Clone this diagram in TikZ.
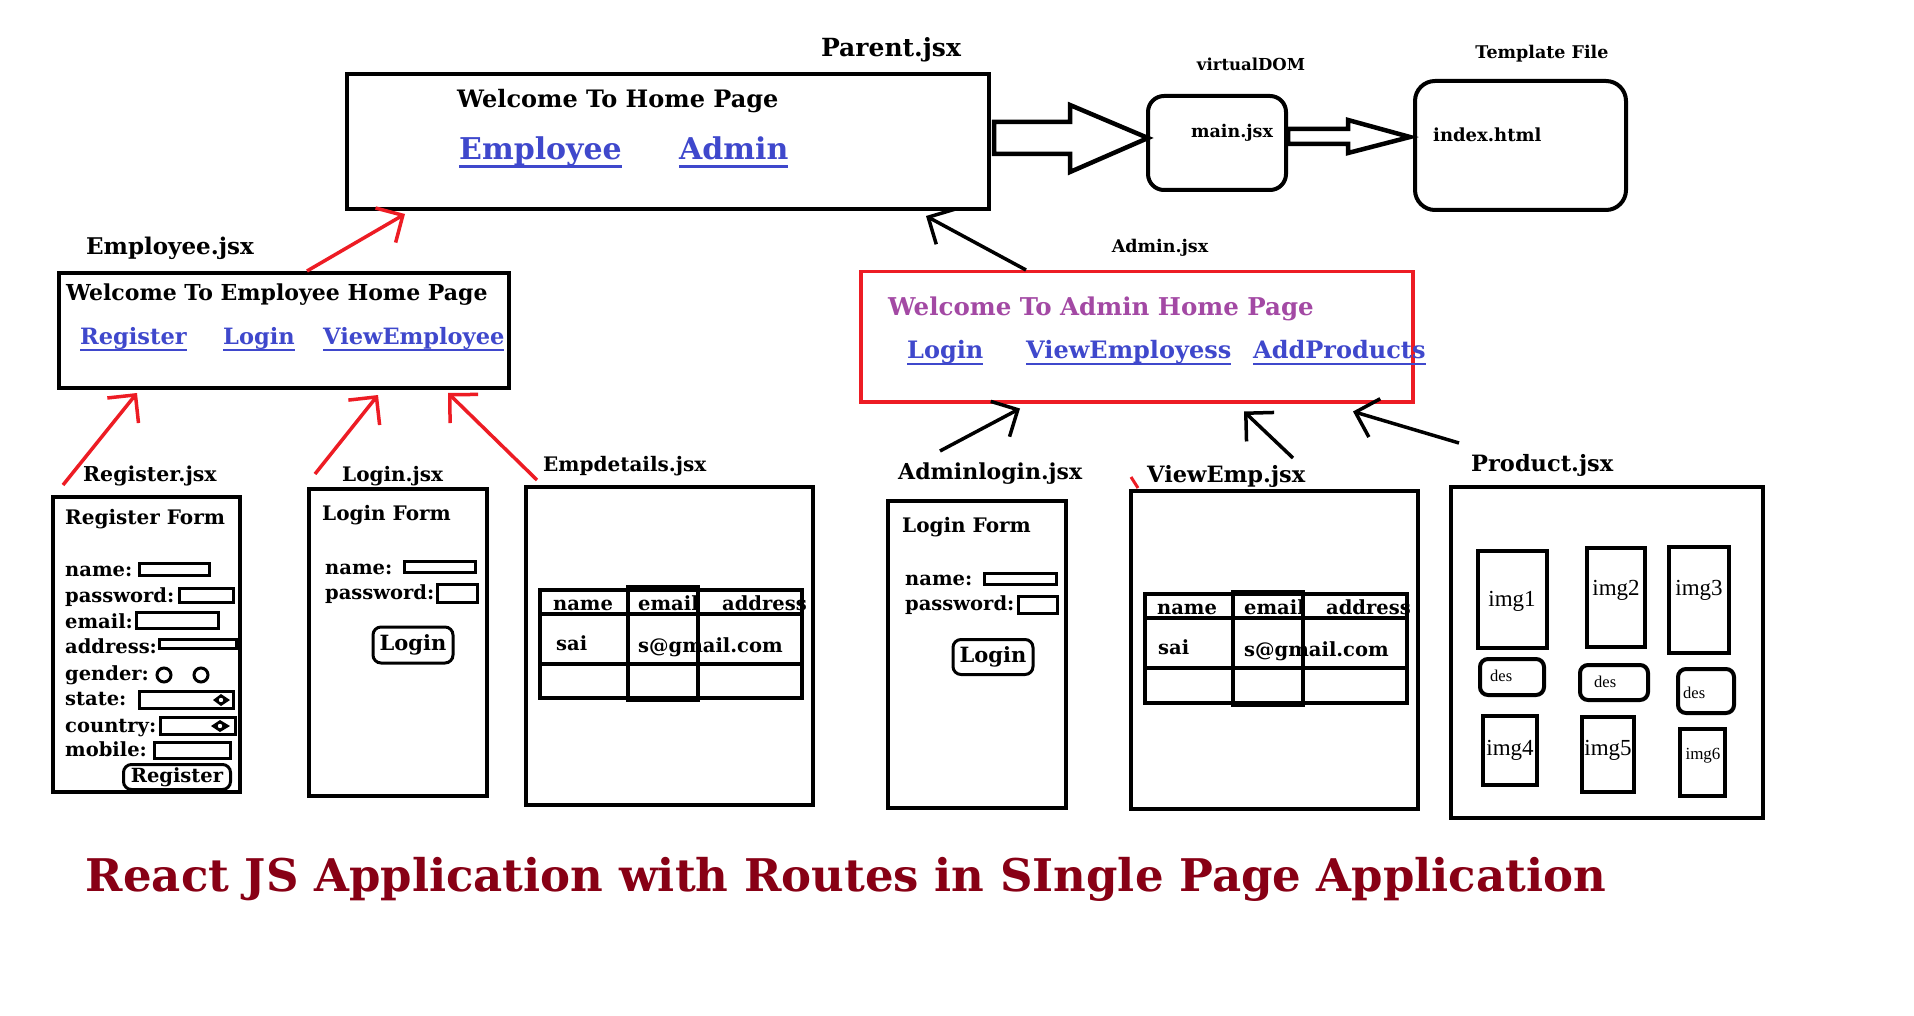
\documentclass[tikz,border=0pt]{standalone}
\usepackage{fontspec}
\setmainfont{DejaVu Serif}
\newfontfamily\tnr{Liberation Serif}
\usetikzlibrary{arrows.meta,calc}
\definecolor{pred}{RGB}{237,28,36}
\definecolor{dred}{RGB}{136,0,21}
\definecolor{ppurple}{RGB}{163,73,164}
\definecolor{lblue}{RGB}{63,72,204}
\newcommand\fsz[1]{\fontsize{#1}{#1}\selectfont}
\newcommand\lnk[1]{\textcolor{lblue}{\setbox0\hbox{#1}\rlap{\rule[-0.28em]{\wd0}{0.09em}}\box0}}
\begin{document}
\begin{tikzpicture}[x=1pt,y=-1pt,
  box/.style={draw,line width=4pt,inner sep=0pt,anchor=north west},
  rbox/.style={draw,line width=4pt,rounded corners=16pt,inner sep=0pt,anchor=north west},
  fld/.style={draw,line width=3pt},
  btn/.style={draw,line width=3pt,rounded corners=8pt,yshift=-1pt},
  tl/.style={inner sep=0pt,anchor=mid west,yshift=-5pt,font=\bfseries\fsz{#1}},
  tc/.style={inner sep=0pt,anchor=mid,yshift=-5pt,font=\bfseries\fsz{#1}},
  ti/.style={inner sep=0pt,anchor=mid,yshift=-4pt,font=\tnr\fsz{#1}},
  tiw/.style={inner sep=0pt,anchor=mid west,yshift=-3pt,font=\tnr\fsz{#1}},
  redarr/.style={draw=pred,line width=3.5pt,-{Straight Barb[length=20pt,width=40pt,line width=3.5pt]}},
  blkarr/.style={draw=black,line width=3.5pt,-{Straight Barb[length=20pt,width=40pt,line width=3.5pt]}},
]
\useasboundingbox (0,0) rectangle (1914,1016);
\fill[white] (0,0) rectangle (1914,1016);

% ---------- top row ----------
\node[box,minimum width=642pt,minimum height=135pt] (parent) at (345,72) {};
\node[tc=25] (parentlbl) at (891,49) {Parent.jsx};
\node[tl=24] (parentwel) at (457,100) {Welcome To Home Page};
\node[tl=30] (parentemp) at (459,152) {\lnk{Employee}};
\node[tl=30] (parentadm) at (679,152) {\lnk{Admin}};

\node[rbox,minimum width=138pt,minimum height=94pt] (main) at (1146,94) {};
\node[tc=16.5] (vdom) at (1251,63) {virtualDOM};
\node[tc=17.5] (mainlbl) at (1232,130) {main.jsx};

\node[rbox,rounded corners=20pt,minimum width=211pt,minimum height=129pt] (index) at (1413,79) {};
\node[tc=17.5] (tmpl) at (1542,51) {Template File};
\node[tl=18] (indexlbl) at (1433,134) {index.html};

% hollow arrows
\draw[line width=4.5pt,line join=miter] (994,122) -- (1070,122) -- (1070,105) -- (1148,138) -- (1070,172) -- (1070,154) -- (994,154) -- cycle;
\draw[line width=4.5pt,line join=miter] (1288,129) -- (1348,129) -- (1348,120) -- (1410,137) -- (1348,153) -- (1348,144) -- (1288,144) -- cycle;

% ---------- employee ----------
\node[box,minimum width=450pt,minimum height=115pt] (emp) at (57,271) {};
\node[tl=23] (emplbl) at (86,247) {Employee.jsx};
\node[tl=22] (empwel) at (66,293) {Welcome To Employee Home Page};
\node[tl=22.5] (emplnk1) at (80,337) {\lnk{Register}};
\node[tl=22.5] (emplnk2) at (223,337) {\lnk{Login}};
\node[tl=22.5] (emplnk3) at (323,337) {\lnk{ViewEmployee}};

% ---------- admin ----------
\node[box,draw=pred,line width=3.5pt,minimum width=552pt,minimum height=130pt] (admin) at (859,270) {};
\node[tc=17.5] (adminlbl) at (1160,245) {Admin.jsx};
\node[tl=24.5,text=ppurple] (adminwel) at (888,308) {Welcome To Admin Home Page};
\node[tl=24] (admlnk1) at (907,351) {\lnk{Login}};
\node[tl=24] (admlnk2) at (1026,351) {\lnk{ViewEmployess}};
\node[tl=24] (admlnk3) at (1253,351) {\lnk{AddProducts}};

% ---------- register ----------
\node[box,minimum width=187pt,minimum height=295pt] (reg) at (51,495) {};
\node[tl=20.5] (reglbl) at (83,474) {Register.jsx};
\node[tl=20] (regform) at (65,517) {Register Form};
\node[tl=19.5] (rn) at (65,569) {name:};
\node[tl=19.5] (rp) at (65,595) {password:};
\node[tl=19.5] (re) at (65,621) {email:};
\node[tl=19.5] (ra) at (65,646) {address:};
\node[tl=19.5] (rg) at (65,673) {gender:};
\node[tl=19.5] (rs) at (65,698) {state:};
\node[tl=19.5] (rc) at (65,725) {country:};
\node[tl=19.5] (rm) at (65,749) {mobile:};
\draw[fld] (139,563) rectangle (209,575);
\draw[fld] (179,588) rectangle (233,602);
\draw[fld] (136,612) rectangle (218,628);
\draw[fld] (159,639) rectangle (236,648);
\draw[line width=3pt] (164,675) circle (7);
\draw[line width=3pt] (201,675) circle (7);
\draw[fld] (139,691) rectangle (233,708);
\fill (213,700) -- (221,694) -- (230,700) -- (221,706) -- cycle;
\fill[white] (221,700) circle (2.2);
\draw[fld] (160,717) rectangle (235,734);
\fill (211,726) -- (220,720) -- (230,726) -- (220,732) -- cycle;
\fill[white] (220,726) circle (2.2);
\draw[fld] (154,742) rectangle (230,758);
\node[btn,inner sep=0pt,minimum width=107pt,minimum height=25pt,font=\bfseries\fsz{19.5}] (regbtn) at (177,776) {Register};

% ---------- login ----------
\node[box,minimum width=178pt,minimum height=307pt] (login) at (307,487) {};
\node[tl=20] (loginlbl) at (342,474) {Login.jsx};
\node[tl=20] (loginform) at (322,513) {Login Form};
\node[tl=19.5] (ln) at (325,567) {name:};
\node[tl=19.5] (lp) at (325,592) {password:};
\draw[fld] (404,561) rectangle (475,572);
\draw[fld] (437,584) rectangle (477,602);
\node[btn,inner sep=0pt,minimum width=80pt,minimum height=36pt,font=\bfseries\fsz{21}] (loginbtn) at (413,644) {Login};

% ---------- empdetails ----------
\node[box,minimum width=287pt,minimum height=318pt] (empd) at (524,485) {};
\node[tl=20] (empdlbl) at (543,464) {Empdetails.jsx};
\draw[line width=4pt] (540,590) rectangle (802,698);
\draw[line width=4pt] (540,614) -- (802,614) (540,664) -- (802,664);
\draw[line width=4pt] (628,587) rectangle (698,700);
\node[tc=19.5] (e1) at (583,603) {name};
\node[tl=19.5] (e2) at (638,603) {email};
\node[tl=19.5] (e3) at (722,603) {address};
\node[tl=19.5] (e4) at (556,643) {sai};
\node[tl=19.5] (e5) at (638,645) {s@gmail.com};

% ---------- adminlogin ----------
\node[box,minimum width=178pt,minimum height=307pt] (alog) at (886,499) {};
\node[tl=22] (aloglbl) at (898,472) {Adminlogin.jsx};
\node[tl=20] (alogform) at (902,525) {Login Form};
\node[tl=19.5] (an) at (905,578) {name:};
\node[tl=19.5] (ap) at (905,603) {password:};
\draw[fld] (984,573) rectangle (1056,584);
\draw[fld] (1018,596) rectangle (1057,613);
\node[btn,inner sep=0pt,minimum width=80pt,minimum height=35pt,font=\bfseries\fsz{21}] (alogbtn) at (993,656) {Login};

% ---------- viewemp ----------
\node[box,minimum width=287pt,minimum height=318pt] (vemp) at (1129,489) {};
\node[tl=22.5] (vemplbl) at (1147,475) {ViewEmp.jsx};
\draw[pred,line width=3pt] (1131,477) -- (1138,488);
\draw[line width=4pt] (1145,594) rectangle (1407,703);
\draw[line width=4pt] (1145,618) -- (1407,618) (1145,668) -- (1407,668);
\draw[line width=4pt] (1233,592) rectangle (1303,705);
\node[tc=19.5] (v1) at (1187,607) {name};
\node[tl=19.5] (v2) at (1244,607) {email};
\node[tl=19.5] (v3) at (1326,607) {address};
\node[tl=19.5] (v4) at (1158,647) {sai};
\node[tl=19.5] (v5) at (1244,649) {s@gmail.com};

% ---------- product ----------
\node[box,minimum width=312pt,minimum height=331pt] (prod) at (1449,485) {};
\node[tl=22.5] (prodlbl) at (1471,464) {Product.jsx};
\draw[line width=4pt] (1478,551) rectangle (1547,648);
\draw[line width=4pt] (1587,548) rectangle (1645,647);
\draw[line width=4pt] (1669,547) rectangle (1729,653);
\draw[line width=4pt,rounded corners=8pt] (1480,659) rectangle (1544,695);
\draw[line width=4pt,rounded corners=8pt] (1580,665) rectangle (1648,700);
\draw[line width=4pt,rounded corners=8pt] (1678,669) rectangle (1734,713);
\draw[line width=4pt] (1483,716) rectangle (1537,785);
\draw[line width=4pt] (1582,717) rectangle (1634,792);
\draw[line width=4pt] (1680,729) rectangle (1725,796);
\node[ti=23] (p1) at (1512,600) {img1};
\node[ti=23] (p2) at (1616,589) {img2};
\node[ti=23] (p3) at (1699,589) {img3};
\node[tiw=16.5] (d1) at (1490,676) {des};
\node[tiw=16.5] (d2) at (1594,682) {des};
\node[tiw=16.5] (d3) at (1683,693) {des};
\node[ti=23] (p4) at (1510,749) {img4};
\node[ti=23] (p5) at (1608,749) {img5};
\node[ti=17] (p6) at (1703,753) {img6};

% ---------- connectors ----------
\draw[redarr] ([xshift=250pt]emp.north west) -- ([xshift=60pt,yshift=-3pt]parent.south west);
\draw[redarr] ([xshift=12pt,yshift=10pt]reg.north west) -- ([xshift=80pt,yshift=-3pt]emp.south west);
\draw[redarr] ([xshift=8pt,yshift=13pt]login.north west) -- ([xshift=321pt,yshift=-5pt]emp.south west);
\draw[redarr] ([xshift=13pt,yshift=5pt]empd.north west) -- ([xshift=391pt,yshift=-3pt]emp.south west);
\draw[blkarr] ([xshift=167pt]admin.north west) -- ([xshift=581pt,yshift=-5pt]parent.south west);
\draw[blkarr] ([xshift=54pt,yshift=48pt]alog.north west) -- ([xshift=161pt,yshift=-5pt]admin.south west);
\draw[blkarr] ([xshift=164pt,yshift=31pt]vemp.north west) -- ([xshift=385pt,yshift=-8pt]admin.south west);
\draw[blkarr] ([xshift=10pt,yshift=42pt]prod.north west) -- ([xshift=494pt,yshift=-8pt]admin.south west);

% ---------- title ----------
\node[tc=45,text=dred] (title) at (846,884) {React JS Application with Routes in SIngle Page Application};
\end{tikzpicture}
\end{document}
